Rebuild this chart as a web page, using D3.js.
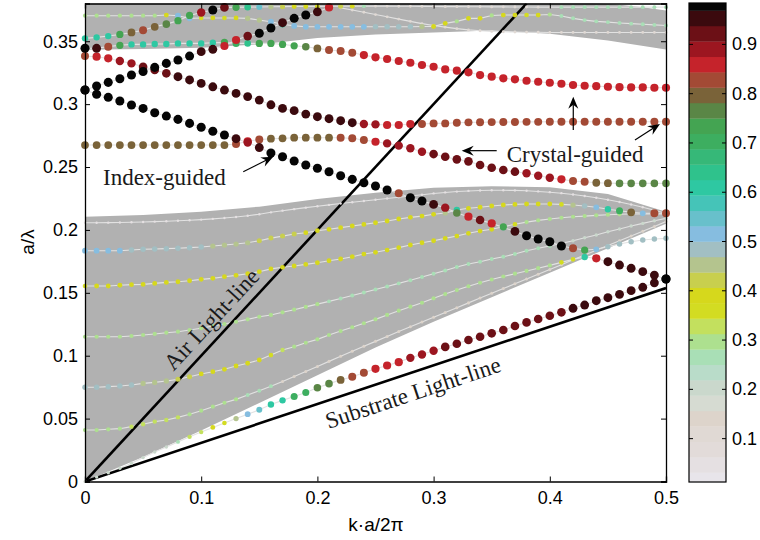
<!DOCTYPE html>
<html><head><meta charset="utf-8">
<script src="https://cdn.jsdelivr.net/npm/d3@7"></script>
<style>body{margin:0;background:#fff;}svg{display:block;}</style>
</head><body><svg id="chart" width="760" height="540"></svg>
<script>
// ---------- data ----------
const K = [0,0.01,0.02,0.03,0.04,0.05,0.06,0.07,0.08,0.09,0.1,0.11,0.12,0.13,0.14,0.15,0.16,0.17,0.18,0.19,0.2,0.21,0.22,0.23,0.24,0.25,0.26,0.27,0.28,0.29,0.3,0.31,0.32,0.33,0.34,0.35,0.36,0.37,0.38,0.39,0.4,0.41,0.42,0.43,0.44,0.45,0.46,0.47,0.48,0.49,0.5];
const xTicks = [0,0.1,0.2,0.3,0.4,0.5];
const yTicks = [0,0.05,0.1,0.15,0.2,0.25,0.3,0.35];
const cbTicks = [0.1,0.2,0.3,0.4,0.5,0.6,0.7,0.8,0.9];
const cmap = ["#e8e5ea","#e5e0e2","#e2dbd9","#e0d9d4","#ddd4cb","#d6dbd2","#cad8cc","#b9dcc9","#a9dfb6","#ade08f","#c3e05e","#d3dc22","#d6d81c","#c8cf4e","#b4c48e","#a2bfc3","#86bde0","#68c0cb","#45c4b8","#2ec8a2","#2fc28c","#36b878","#3dae60","#44a452","#5a8646","#7a6339","#a34a35","#c5232b","#9c1620","#6c1016","#3b0a0e","#050505"];

// gray band outlines
const bandK = [0,0.05,0.1,0.15,0.2,0.25,0.3,0.35,0.4,0.45,0.5];
const lowBandTop = [0.2105,0.2118,0.2145,0.2185,0.2245,0.2295,0.2335,0.2348,0.234,0.2285,0.2145];
const lowBandBot = [0,0.0195,0.0405,0.0625,0.0845,0.1065,0.127,0.1465,0.166,0.1855,0.205];
const upBandBot = [0.3432,0.3438,0.3448,0.3475,0.3525,0.3553,0.357,0.3585,0.356,0.3505,0.3435];
const upCornerK = [0.5,0.48,0.46,0.44,0.42];
const upCornerV = [0.3745,0.377,0.379,0.3802,0.381];

// mode curves: frequency (a/lambda) and colour value
const IG1_v = [0.3112,0.3078,0.3054,0.3025,0.2993,0.2966,0.2932,0.2905,0.2879,0.2847,0.2816,0.2785,0.2755,0.2725,0.2695,0.2655,0.2612,0.2582,0.2548,0.2516,0.249,0.2463,0.2431,0.2402,0.2375,0.2349,0.2317,0.2291,0.2256,0.223,0.2203,0.2177,0.2135,0.2105,0.2079,0.2052,0.202,0.1988,0.1954,0.1928,0.1906,0.1872,0.1854,0.184,0.1846,0.1867,0.1888,0.1906,0.192,0.1928,0.1933];
const IG1_c = [0.98,0.98,0.98,0.98,0.98,0.98,0.98,0.98,0.98,0.98,0.98,0.98,0.98,0.95,0.89,0.95,0.98,0.98,0.98,0.98,0.98,0.98,0.98,0.98,0.98,0.98,0.98,0.83,0.98,0.98,0.95,0.89,0.77,0.86,0.92,0.86,0.52,0.95,0.98,0.98,0.98,0.98,0.83,0.73,0.52,0.48,0.48,0.48,0.48,0.48,0.48];
const IG2_v = [0.3112,0.3144,0.3173,0.3202,0.3231,0.326,0.3292,0.3324,0.3351,0.3382,0.3417,0.3436,0.3462,0.351,0.3541,0.3563,0.3605,0.3647,0.3682,0.3708,0.3734,0.3769];
const IG2_c = [0.98,0.98,0.98,0.98,0.98,0.98,0.98,0.98,0.98,0.98,0.95,0.95,0.86,0.86,0.92,0.98,0.98,0.95,0.98,0.98,0.95,0.86];
const IG3_v = [0.3382,0.3377,0.3364,0.3343,0.3324,0.3297,0.3271,0.3245,0.3218,0.3192,0.3165,0.3138,0.3112,0.3085,0.306,0.3032,0.2995,0.2966,0.2948,0.2921,0.29,0.2884,0.2868,0.2852,0.2842,0.2839,0.2834,0.2834,0.2842,0.2842,0.2847,0.2847,0.2852,0.2855,0.2856,0.2857,0.2858,0.2858,0.2859,0.2859,0.286,0.286,0.286,0.286,0.286,0.286,0.286,0.286,0.286,0.286,0.286];
const IG3_c = [0.83,0.86,0.86,0.89,0.89,0.92,0.92,0.92,0.95,0.95,0.95,0.95,0.95,0.95,0.95,0.95,0.95,0.95,0.95,0.95,0.95,0.95,0.95,0.95,0.89,0.89,0.86,0.86,0.86,0.83,0.83,0.83,0.83,0.83,0.83,0.83,0.83,0.83,0.83,0.83,0.83,0.83,0.83,0.83,0.83,0.83,0.83,0.83,0.83,0.83,0.83];
const IG4_v = [0.2675,0.2675,0.2675,0.2675,0.2675,0.2675,0.2675,0.2675,0.2675,0.2675,0.2675,0.2675,0.2675,0.2683,0.2705,0.2718,0.2725,0.2728,0.2733,0.2733,0.2733,0.2733,0.2733,0.2728,0.2715,0.2701,0.2688,0.267,0.2649,0.2622,0.2603,0.2582,0.2561,0.2545,0.2516,0.2494,0.2476,0.2463,0.245,0.2431,0.2415,0.2402,0.2389,0.2383,0.2375,0.2372,0.237,0.237,0.237,0.237,0.237];
const IG4_c = [0.8,0.8,0.8,0.8,0.8,0.8,0.8,0.8,0.8,0.8,0.8,0.8,0.8,0.83,0.86,0.83,0.8,0.8,0.8,0.8,0.8,0.8,0.83,0.83,0.83,0.86,0.89,0.89,0.89,0.89,0.92,0.92,0.92,0.92,0.92,0.92,0.92,0.92,0.89,0.89,0.89,0.86,0.83,0.83,0.8,0.8,0.77,0.77,0.77,0.77,0.77];
const CG_v = [0.3444,0.3444,0.3457,0.3468,0.3475,0.3475,0.3478,0.3478,0.3483,0.3483,0.3483,0.3488,0.349,0.3483,0.3483,0.3483,0.3483,0.3475,0.3464,0.3456,0.3443,0.343,0.3422,0.3409,0.339,0.3372,0.3359,0.3343,0.3329,0.3311,0.3297,0.3276,0.3266,0.3253,0.3231,0.3218,0.3205,0.3197,0.3186,0.3178,0.317,0.3162,0.3152,0.3146,0.3143,0.3138,0.3135,0.3133,0.3133,0.313,0.313];
const CG_c = [0.98,0.95,0.83,0.73,0.61,0.61,0.61,0.61,0.61,0.61,0.61,0.61,0.73,0.7,0.64,0.73,0.73,0.73,0.73,0.77,0.8,0.83,0.83,0.83,0.86,0.86,0.86,0.86,0.86,0.86,0.86,0.86,0.86,0.86,0.86,0.86,0.86,0.86,0.86,0.86,0.86,0.86,0.86,0.86,0.86,0.86,0.86,0.86,0.86,0.86,0.86];
const U1_v = [0.3523,0.3531,0.3541,0.3554,0.357,0.3588,0.3615,0.3636,0.3663,0.3705,0.3729,0.3748,0.3769,0.377,0.3771,0.3772,0.3774,0.3775,0.3776,0.3776,0.3777,0.3778,0.3778,0.3779,0.3779,0.3779,0.3779,0.3778,0.3778,0.3777,0.3776,0.3775,0.3775,0.3774,0.3774,0.3773,0.3773,0.3772,0.3772,0.3771,0.3771,0.3771,0.3771,0.3771,0.3771,0.3771,0.3771,0.3771,0.3771,0.3771,0.3771];
const U1_c = [0.61,0.61,0.61,0.73,0.8,0.83,0.8,0.77,0.73,0.73,0.89,0.98,0.92,0.73,0.64,0.55,0.45,0.42,0.39,0.39,0.39,0.55,0.42,0.39,0.27,0.12,0.12,0.12,0.12,0.12,0.12,0.12,0.12,0.12,0.12,0.12,0.12,0.12,0.12,0.12,0.12,0.27,0.27,0.27,0.27,0.27,0.27,0.27,0.27,0.27,0.27];
const U2_v = [0.3703,0.3703,0.3703,0.3703,0.3703,0.3703,0.3703,0.3708,0.3703,0.3682,0.3685,0.3685,0.3685,0.3685,0.3682,0.3668,0.3655,0.3635,0.3622,0.3615,0.3615,0.3615,0.3615,0.3615,0.3615,0.3615,0.3615,0.3615,0.3615,0.3617,0.3617,0.3642,0.3658,0.3682,0.3682,0.3705,0.3708,0.3708,0.3708,0.3708,0.3712,0.37,0.3682,0.3668,0.3658,0.3652,0.3645,0.364,0.3635,0.363,0.3625];
const U2_c = [0.3,0.3,0.3,0.3,0.3,0.3,0.3,0.39,0.52,0.52,0.36,0.39,0.36,0.39,0.45,0.45,0.52,0.61,0.52,0.52,0.52,0.52,0.52,0.52,0.52,0.48,0.48,0.48,0.48,0.45,0.39,0.39,0.3,0.39,0.39,0.3,0.39,0.39,0.36,0.39,0.3,0.27,0.27,0.27,0.27,0.27,0.27,0.27,0.27,0.27,0.27];
const U3_v = [0.3765,0.3748,0.373,0.3712,0.3694,0.3676,0.3658,0.364,0.3625,0.3612,0.36,0.359,0.3583,0.3578,0.3575,0.3573,0.3572,0.3571,0.357,0.357,0.357,0.357,0.357,0.357,0.357,0.357,0.357,0.357,0.357];
const U3_c = [0.12,0.12,0.12,0.12,0.12,0.12,0.12,0.12,0.12,0.12,0.12,0.12,0.12,0.12,0.12,0.12,0.12,0.12,0.12,0.12,0.12,0.12,0.12,0.12,0.12,0.12,0.12,0.12,0.12];
const LT_v = [0.2057,0.2057,0.2058,0.2059,0.2061,0.2063,0.2066,0.2069,0.2073,0.2077,0.2082,0.2088,0.2095,0.2103,0.2113,0.2125,0.214,0.2153,0.2165,0.2177,0.2188,0.2199,0.221,0.222,0.223,0.224,0.225,0.226,0.227,0.228,0.229,0.2298,0.2305,0.231,0.2313,0.2315,0.2315,0.2314,0.2311,0.2306,0.23,0.2292,0.2282,0.227,0.2256,0.224,0.2222,0.2202,0.218,0.2157,0.2132];
const L1_v = [0.1835,0.1835,0.1835,0.1835,0.184,0.1846,0.1848,0.1851,0.1854,0.1859,0.1864,0.1872,0.188,0.1888,0.1898,0.1914,0.1935,0.1951,0.1967,0.1978,0.1994,0.2005,0.2018,0.2031,0.2044,0.2057,0.2071,0.2087,0.21,0.211,0.2124,0.2135,0.2158,0.2172,0.218,0.219,0.2198,0.2203,0.2206,0.2206,0.2206,0.2203,0.2198,0.219,0.218,0.2164,0.2153,0.214,0.2132,0.2132,0.2132];
const L1_c = [0.52,0.52,0.52,0.52,0.48,0.48,0.48,0.48,0.48,0.48,0.48,0.45,0.45,0.45,0.45,0.42,0.42,0.42,0.42,0.39,0.39,0.39,0.39,0.39,0.39,0.39,0.39,0.39,0.39,0.39,0.39,0.45,0.61,0.39,0.39,0.39,0.39,0.39,0.39,0.39,0.39,0.36,0.45,0.48,0.52,0.61,0.7,0.8,0.52,0.83,0.83];
const L2_v = [0.1554,0.1554,0.1554,0.156,0.1565,0.1567,0.1575,0.1583,0.1588,0.1596,0.1607,0.1615,0.1628,0.1639,0.1652,0.1668,0.169,0.1703,0.1713,0.1726,0.1739,0.1755,0.1769,0.1787,0.1808,0.1822,0.184,0.1859,0.188,0.1898,0.1914,0.1933,0.1951,0.1973,0.1991,0.2005,0.2025,0.2045,0.2062,0.2076,0.2087,0.2097,0.2105,0.211,0.2116,0.2121,0.2124,0.2126,0.2126,0.2126,0.2126];
const L2_c = [0.36,0.39,0.39,0.39,0.39,0.39,0.39,0.39,0.39,0.39,0.39,0.39,0.39,0.39,0.39,0.39,0.39,0.39,0.39,0.39,0.39,0.39,0.39,0.39,0.39,0.39,0.39,0.39,0.39,0.39,0.39,0.39,0.39,0.39,0.39,0.39,0.73,0.36,0.3,0.3,0.3,0.3,0.3,0.3,0.3,0.3,0.3,0.3,0.3,0.3,0.3];
const L3_v = [0.1151,0.1151,0.1151,0.1151,0.1157,0.1165,0.1173,0.1183,0.1191,0.1204,0.1218,0.1236,0.1252,0.127,0.1289,0.131,0.1324,0.1345,0.1366,0.1388,0.141,0.1432,0.1455,0.1478,0.1502,0.1526,0.155,0.1575,0.16,0.1626,0.1652,0.1678,0.1705,0.1729,0.1747,0.1769,0.1787,0.1808,0.1835,0.1854,0.1872,0.1893,0.1914,0.1938,0.1959,0.1986,0.2007,0.2031,0.2052,0.2073,0.2092];
const L3_c = [0.3,0.3,0.3,0.3,0.3,0.3,0.3,0.3,0.3,0.3,0.3,0.3,0.3,0.3,0.3,0.3,0.3,0.3,0.3,0.3,0.3,0.27,0.27,0.27,0.27,0.27,0.27,0.27,0.27,0.27,0.27,0.27,0.27,0.27,0.27,0.27,0.27,0.27,0.27,0.27,0.27,0.2,0.2,0.2,0.2,0.2,0.2,0.2,0.2,0.2,0.2];
const L4_v = [0.0749,0.0749,0.0754,0.0759,0.0767,0.078,0.0788,0.0799,0.0812,0.0833,0.0855,0.0873,0.0892,0.0918,0.094,0.0966,0.1005,0.1045,0.1072,0.1103,0.113,0.1165,0.1196,0.1226,0.1258,0.1289,0.1324,0.1358,0.139,0.1421,0.1456,0.149,0.1522,0.1552,0.158,0.1606,0.163,0.1652,0.1674,0.1696,0.1718,0.1742,0.1766,0.1785,0.1774,0.1747,0.1721,0.1695,0.1668,0.1641,0.161];
const L4_c = [0.48,0.48,0.48,0.48,0.48,0.45,0.45,0.45,0.42,0.42,0.39,0.39,0.39,0.39,0.39,0.39,0.36,0.33,0.3,0.3,0.3,0.3,0.3,0.3,0.3,0.3,0.3,0.3,0.3,0.3,0.3,0.3,0.3,0.3,0.3,0.3,0.3,0.3,0.3,0.3,0.3,0.36,0.36,0.61,0.86,0.95,0.95,0.95,0.95,0.95,0.98];
const L5_v = [0.0409,0.0409,0.0415,0.042,0.0436,0.0455,0.0476,0.0489,0.051,0.0534,0.0563,0.0595,0.0626,0.0653,0.0688,0.0722,0.0758,0.0795,0.0835,0.0875,0.0915,0.0955,0.0995,0.1035,0.1075,0.1114,0.1153,0.1192,0.123,0.1268,0.1306,0.1344,0.1382,0.142,0.1458,0.1496,0.1534,0.1572,0.161,0.1648,0.1686,0.1724,0.1762,0.18,0.1838,0.1876,0.1914,0.1952,0.199,0.2028,0.2066];
const L5_c = [0.3,0.3,0.3,0.3,0.33,0.33,0.33,0.33,0.33,0.3,0.3,0.3,0.3,0.3,0.27,0.27,0.27,0.14,0.14,0.14,0.14,0.14,0.14,0.14,0.14,0.14,0.14,0.14,0.14,0.14,0.14,0.14,0.14,0.14,0.14,0.14,0.14,0.14,0.14,0.14,0.14,0.14,0.14,0.14,0.14,0.14,0.14,0.14,0.14,0.14,0.14];
const S_v = [0,0.0035,0.007,0.0105,0.0145,0.019,0.0235,0.0275,0.0315,0.0355,0.0393,0.043,0.0465,0.05,0.0535,0.057,0.0612,0.0645,0.0675,0.0708,0.0745,0.0778,0.0807,0.0833,0.0865,0.0896,0.0922,0.0949,0.0983,0.101,0.104,0.107,0.1095,0.1125,0.1151,0.1178,0.1204,0.1236,0.1265,0.1292,0.1318,0.1345,0.1377,0.1403,0.1437,0.1461,0.1488,0.1517,0.1544,0.158,0.161];
const S_c = [0.17,0.2,0.2,0.2,0.2,0.2,0.2,0.2,0.27,0.33,0.33,0.39,0.36,0.45,0.52,0.55,0.61,0.61,0.7,0.7,0.77,0.77,0.8,0.83,0.83,0.86,0.86,0.86,0.89,0.89,0.89,0.92,0.92,0.92,0.92,0.92,0.92,0.92,0.92,0.92,0.92,0.92,0.95,0.95,0.95,0.95,0.95,0.95,0.95,0.95,0.98];
const airLineK = [0,0.38];
const substrateLineV = [0,0.1538];

// ---------- drawing ----------
const svg = d3.select("#chart");
const x = d3.scaleLinear().domain([0,0.5]).range([85,666]);
const y = d3.scaleLinear().domain([0,0.38]).range([481.5,3.5]);
const col = c => cmap[Math.max(0, Math.min(31, Math.floor(c*32)))];
const rad = c => 1.0 + 3.6*c;

svg.append("defs").append("clipPath").attr("id","plotclip")
  .append("rect").attr("x",85).attr("y",3.5).attr("width",581).attr("height",478);
const plot = svg.append("g").attr("clip-path","url(#plotclip)");

// gray bands
const lowPoly = bandK.map((k,i)=>[x(k),y(lowBandTop[i])]).concat(bandK.slice().reverse().map((k,i)=>[x(k),y(lowBandBot[bandK.length-1-i])]));
plot.append("path").attr("d","M"+lowPoly.join("L")+"Z").attr("fill","#b1b1b1");
const upPoly = bandK.map((k,i)=>[x(k),y(upBandBot[i])])
  .concat(upCornerK.map((k,i)=>[x(k),y(upCornerV[i])]))
  .concat([[x(0),y(0.39)]]);
plot.append("path").attr("d","M"+upPoly.join("L")+"Z").attr("fill","#b1b1b1");

// curves
const curves = [
  {k:K, v:LT_v, c:LT_v.map(()=>0.05)},
  {k:K, v:L5_v, c:L5_c},
  {k:K, v:L3_v, c:L3_c},
  {k:K, v:L4_v, c:L4_c},
  {k:K, v:L2_v, c:L2_c},
  {k:K, v:L1_v, c:L1_c},
  {k:K, v:S_v, c:S_c},
  {k:K.slice(22), v:U3_v, c:U3_c},
  {k:K, v:U2_v, c:U2_c},
  {k:K, v:U1_v, c:U1_c},
  {k:K, v:CG_v, c:CG_c},
  {k:K, v:IG4_v, c:IG4_c},
  {k:K, v:IG3_v, c:IG3_c},
  {k:K.slice(0,22), v:IG2_v, c:IG2_c},
  {k:K, v:IG1_v, c:IG1_c}
];
const line = d3.line().x(d=>x(d[0])).y(d=>y(d[1]));
const lineG = plot.append("g");
curves.forEach(cv=>{
  const pts = cv.k.map((k,i)=>[k,cv.v[i]]);
  lineG.append("path").attr("d",line(pts)).attr("fill","none").attr("stroke","#e2e2e2").attr("stroke-width",1.1);
});
let dots = [];
curves.forEach(cv=>cv.k.forEach((k,i)=>dots.push({k:k,v:cv.v[i],c:cv.c[i]})));
dots.sort((a,b)=>a.c-b.c);
svg.append("g").selectAll("circle").data(dots).join("circle")
  .attr("cx",d=>x(d.k)).attr("cy",d=>y(d.v)).attr("r",d=>rad(d.c)).attr("fill",d=>col(d.c));

// light lines
plot.append("line").attr("x1",x(airLineK[0])).attr("y1",y(airLineK[0])).attr("x2",x(airLineK[1])).attr("y2",y(airLineK[1]))
  .attr("stroke","#000").attr("stroke-width",2.6);
plot.append("line").attr("x1",x(0)).attr("y1",y(substrateLineV[0])).attr("x2",x(0.5)).attr("y2",y(substrateLineV[1]))
  .attr("stroke","#000").attr("stroke-width",2.6);

// axes
const fontSans = "'Liberation Sans', Arial, sans-serif";
const fmt = d=>String(d);
const ax = svg.append("g").attr("font-family",fontSans);
ax.append("g").attr("transform","translate(85,0)").call(d3.axisLeft(y).tickValues(yTicks).tickFormat(fmt).tickSize(-5).tickPadding(7));
ax.append("g").attr("transform","translate(666,0)").call(d3.axisRight(y).tickValues(yTicks).tickFormat("").tickSize(-5));
ax.append("g").attr("transform","translate(0,481.5)").call(d3.axisBottom(x).tickValues(xTicks).tickFormat(fmt).tickSize(-5).tickPadding(10));
ax.append("g").attr("transform","translate(0,3.5)").call(d3.axisTop(x).tickValues(xTicks).tickFormat("").tickSize(-5));
ax.selectAll(".domain").attr("stroke","#000").attr("stroke-width",1.3);
ax.selectAll(".tick line").attr("stroke","#000");
ax.selectAll(".tick text").attr("font-size",18).attr("fill","#000");
ax.append("text").attr("transform","translate(27,242) rotate(-90)").attr("text-anchor","middle").attr("dominant-baseline","central")
  .attr("font-size",19).text("a/λ");
ax.append("text").attr("x",376).attr("y",524).attr("text-anchor","middle").attr("dominant-baseline","central")
  .attr("font-size",19).text("k·a/2π");

// colorbar
const cb = svg.append("g");
const yc = d3.scaleLinear().domain([0.012,0.984]).range([482,3]);
cmap.forEach((c,j)=>{
  const lo = Math.max(j/32,0.012), hi = Math.min((j+1)/32,0.984);
  cb.append("rect").attr("x",689).attr("width",37).attr("y",yc(hi)).attr("height",yc(lo)-yc(hi)+0.3).attr("fill",c);
});
cb.append("rect").attr("x",689).attr("y",3).attr("width",37).attr("height",479).attr("fill","none").attr("stroke","#000").attr("stroke-width",1.2);
cbTicks.forEach(t=>{
  cb.append("line").attr("x1",689).attr("x2",693).attr("y1",yc(t)).attr("y2",yc(t)).attr("stroke","#000");
  cb.append("line").attr("x1",722).attr("x2",726).attr("y1",yc(t)).attr("y2",yc(t)).attr("stroke","#000");
  cb.append("text").attr("x",732).attr("y",yc(t)).attr("dominant-baseline","central").attr("font-family",fontSans)
    .attr("font-size",18).text(String(t));
});

// annotations
const serif = "'Liberation Serif', 'Times New Roman', serif";
const ann = svg.append("g").attr("font-family",serif).attr("font-size",23).attr("fill","#1a1a1a");
function arrow(k1,v1,k2,v2){
  const x1=x(k1),y1=y(v1),x2=x(k2),y2=y(v2);
  const a=Math.atan2(y2-y1,x2-x1), L=12, W=5, N=8;
  const ca=Math.cos(a), sa=Math.sin(a);
  const bx=x2-N*ca, by=y2-N*sa;
  ann.append("line").attr("x1",x1).attr("y1",y1).attr("x2",bx).attr("y2",by).attr("stroke","#000").attr("stroke-width",1.2);
  const p=[[x2,y2],[x2-L*ca-W*sa,y2-L*sa+W*ca],[bx,by],[x2-L*ca+W*sa,y2-L*sa-W*ca]];
  ann.append("path").attr("d","M"+p.join("L")+"Z").attr("fill","#000");
}
ann.append("text").attr("x",x(0.0155)).attr("y",y(0.2357)).text("Index-guided");
arrow(0.1362,0.2463,0.162,0.2582);
ann.append("text").attr("x",x(0.3629)).attr("y",y(0.254)).text("Crystal-guided");
arrow(0.3543,0.263,0.3242,0.263);
arrow(0.4202,0.2794,0.4202,0.3059);
arrow(0.4733,0.2715,0.4948,0.2842);
const airAng = Math.atan2(y(1)-y(0),x(1)-x(0))*180/Math.PI;
ann.append("text").attr("transform",`translate(${x(0.1089)},${y(0.1288)}) rotate(${airAng})`)
  .attr("text-anchor","middle").attr("dominant-baseline","central").text("Air Light-line");
const subAng = Math.atan2(y(substrateLineV[1])-y(0),x(0.5)-x(0))*180/Math.PI;
ann.append("text").attr("transform",`translate(${x(0.2823)},${y(0.0704)}) rotate(${subAng})`)
  .attr("text-anchor","middle").attr("dominant-baseline","central").text("Substrate Light-line");
</script></body></html>
